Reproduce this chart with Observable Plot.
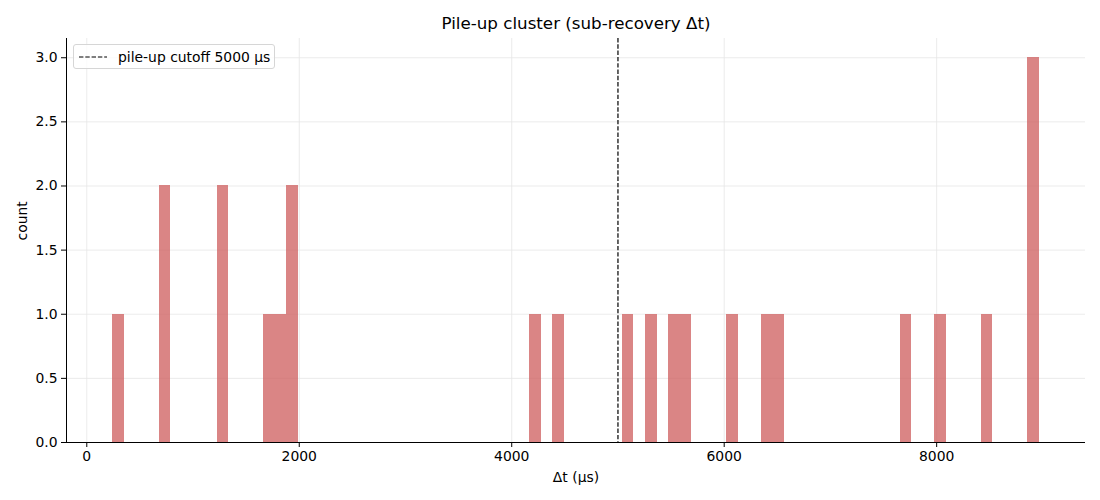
<!DOCTYPE html>
<html>
<head>
<meta charset="utf-8">
<script src="https://cdn.jsdelivr.net/npm/d3@7"></script>
<script src="https://cdn.jsdelivr.net/npm/@observablehq/plot@0.6"></script>
<style>
  body { margin: 0; background: #fff; font-family: "DejaVu Sans", sans-serif; }
  #wrap { position: relative; width: 1100px; height: 500px; }
  #legend {
    position: absolute; left: 73px; top: 44px; width: 200px; height: 23px;
    border: 1px solid #d6d6d6; border-radius: 3px; background: rgba(255,255,255,0.8);
    font-size: 13.9px; display: flex; align-items: center; color: #000;
  }
  #legend svg { margin-left: 5px; }
  #legend span { margin-left: 11px; }
</style>
</head>
<body>
<div id="wrap">
  <div id="chart"></div>
  <div id="legend">
    <svg width="28" height="4"><line x1="0" y1="2" x2="28" y2="2" stroke="black" stroke-width="1.2" stroke-dasharray="4.4,1.9"/></svg>
    <span>pile-up cutoff 5000 µs</span>
  </div>
</div>
<script>
// Δt between successive pulses in the cluster (µs)
const deltaT = [298, 712, 755, 1262, 1300, 1705, 1830, 1920, 1950,
  4230, 4450, 5090, 5320, 5540, 5650, 6070, 6400, 6520,
  7700, 8040, 8470, 8890, 8920, 8950]

const binLo = 245
const binWidth = 109
const binCount = 80
const cutoff = 5000

const xTicks = [0, 2000, 4000, 6000, 8000]
const yTicks = [0, 0.5, 1, 1.5, 2, 2.5, 3]
const xDomain = [-191, 9401]
const yDomain = [0, 3.15]

// same binning as the original histogram (80 equal bins)
const edges = d3.range(1, binCount).map(i => binLo + i * binWidth)
const bins = d3.bin()
  .domain([binLo, binLo + binCount * binWidth])
  .thresholds(edges)(deltaT)
  .filter(b => b.length > 0)
  .map(b => ({ x1: b.x0, x2: b.x1, count: b.length }))

const chart = Plot.plot({
  width: 1100,
  height: 500,
  marginLeft: 66,
  marginRight: 15,
  marginTop: 38,
  marginBottom: 58,
  style: { fontFamily: 'DejaVu Sans', fontSize: '13.9px', color: 'black', background: 'white' },
  x: { domain: xDomain },
  y: { domain: yDomain },
  marks: [
    Plot.gridX(xTicks, { stroke: '#e6e6e6', strokeOpacity: 1, strokeWidth: 0.8 }),
    Plot.gridY(yTicks, { stroke: '#e6e6e6', strokeOpacity: 1, strokeWidth: 0.8 }),
    Plot.rectY(bins, {
      x1: 'x1', x2: 'x2', y: 'count',
      fill: '#cd5c5c', fillOpacity: 0.75, inset: 0,
      shapeRendering: 'crispEdges'
    }),
    Plot.ruleX([cutoff], { stroke: 'black', strokeWidth: 1.2, strokeDasharray: '4.4,1.9' }),
    Plot.ruleY([0], { stroke: 'black', strokeWidth: 1 }),
    Plot.ruleX([xDomain[0]], { stroke: 'black', strokeWidth: 1 }),
    Plot.axisX(xTicks, { tickSize: 5, tickPadding: 4, label: null, fontSize: 13.9, tickFormat: 'd' }),
    Plot.axisY(yTicks, { tickSize: 5, tickPadding: 4, label: null, fontSize: 13.9, tickFormat: d => d.toFixed(1) }),
    Plot.text(['Δt (µs)'], { frameAnchor: 'bottom', lineAnchor: 'middle', dy: 35, fontSize: 13.9 }),
    Plot.text(['count'], { frameAnchor: 'left', lineAnchor: 'middle', rotate: -90, dx: -44, fontSize: 13.9 }),
    Plot.text(['Pile-up cluster (sub-recovery Δt)'], { frameAnchor: 'top', lineAnchor: 'middle', dy: -15, fontSize: 16.7 })
  ]
})

d3.select('#chart').append(() => chart)
</script>
</body>
</html>
